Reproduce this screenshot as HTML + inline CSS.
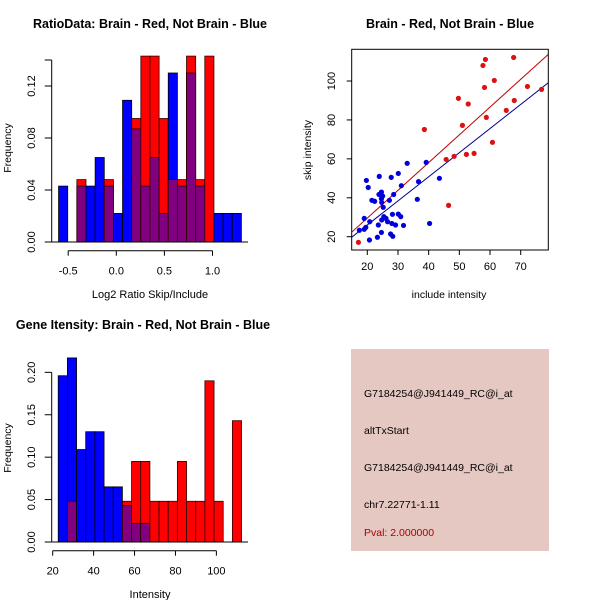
<!DOCTYPE html>
<html><head><meta charset="utf-8"><style>
body{margin:0;background:#fff}
svg{display:block;font-family:"Liberation Sans",sans-serif}
</style></head><body>
<svg id="s" width="600" height="600" viewBox="0 0 600 600">
<rect x="351" y="349" width="198" height="202" fill="#e6c8c2"/>
<g font-size="10.5" fill="#000">
<text x="364" y="397">G7184254@J941449_RC@i_at</text>
<text x="364" y="434">altTxStart</text>
<text x="364" y="471">G7184254@J941449_RC@i_at</text>
<text x="364" y="508">chr7.22771-1.11</text>
<text x="364" y="536" fill="#aa0000">Pval: 2.000000</text>
</g>
</svg>
<script>
// Ratio histogram data
const ratioBinStart = -0.6, ratioBinWidth = 0.095;
const ratioBlue = [0.043,0,0.043,0.043,0.065,0.043,0.022,0.109,0.087,0.043,0.065,0.022,0.13,0.043,0.13,0.043,0,0.022,0.022,0.022];
const ratioRed  = [0,0,0.048,0,0,0.048,0,0,0.095,0.143,0.143,0.095,0.048,0.048,0.143,0.048,0.143,0,0,0];
const ratioYTicks = [0,0.04,0.08,0.12];
const ratioYTickLabels = ["0.00","0.04","0.08","0.12"];
const ratioXTicks = [-0.5,0,0.5,1.0];
const ratioXTickLabels = ["-0.5","0.0","0.5","1.0"];
// Intensity histogram data
const intBinStart = 22.7, intBinWidth = 4.48;
const intBlue = [0.196,0.217,0.109,0.13,0.13,0.065,0.065,0.043,0.022,0.022,0,0,0,0,0,0,0,0,0,0];
const intRed  = [0,0.048,0,0,0,0,0,0.048,0.095,0.095,0.048,0.048,0.048,0.095,0.048,0.048,0.19,0.048,0,0.143];
const intYTicks = [0,0.05,0.1,0.15,0.2];
const intYTickLabels = ["0.00","0.05","0.10","0.15","0.20"];
const intXTicks = [20,40,60,80,100];
const intXTickLabels = ["20","40","60","80","100"];
// Scatter data
const redX = [17.1,38.6,45.7,46.5,48.3,49.7,51,52.3,52.9,54.8,57.7,58.5,58.2,58.8,60.8,61.4,65.3,67.7,67.9,72.2,76.8];
const redY = [17.1,75.1,59.7,36.1,61.3,91.1,77.2,62.3,88.2,62.8,108,111.1,96.7,81.3,68.5,100.3,84.9,112.1,90,97.2,95.7];
const blueX = [19.7,20.3,19.0,17.4,19.0,19.5,20.8,20.7,21.5,22.4,23.9,23.8,24.6,24.7,24.6,25.0,25.2,23.3,23.6,24.6,24.7,25.4,26.1,26.6,27.2,27.8,28.2,27.6,28.3,28.0,28.6,29.2,30.1,30.1,30.9,31.1,31.8,33.0,36.3,36.7,39.2,40.3,43.5];
const blueY = [48.9,45.3,29.4,23.3,23.8,24.8,27.7,18.3,38.7,38.2,51.0,41.7,42.9,37.6,39.5,40.9,35.1,19.7,26.0,22.2,28.6,30.3,29.4,27.7,38.7,50.5,31.5,21.4,20.2,26.8,41.7,26.0,52.5,31.6,30.3,46.2,25.8,57.7,39.2,48.3,58.2,26.8,50.0];
const redFit = [1.05,1.426];
const blueFit = [1.24,1.239];
const scXTicks = [20,30,40,50,60,70];
const scYTicks = [20,40,60,80,100];

const svg = document.getElementById('s');
const NS = 'http://www.w3.org/2000/svg';
function mk(tag, attrs, parent){
  const e = document.createElementNS(NS, tag);
  for (const k in attrs) e.setAttribute(k, attrs[k]);
  (parent||svg).appendChild(e); return e;
}
function txt(x,y,s,opts){
  const t = mk('text', Object.assign({x:x,y:y,'text-anchor':'middle','font-size':11}, opts||{}));
  t.textContent = s; return t;
}

function hist(cfg){
  const g = mk('g', {});
  
  
  const xs = v => cfg.x0 + cfg.xk*v, ys = v => cfg.y0 - cfg.yk*v;
  const n = cfg.blue.length;
  for (let i=0;i<n;i++){
    const a = xs(cfg.start + i*cfg.w), b = xs(cfg.start+(i+1)*cfg.w);
    const bl = cfg.blue[i], rd = cfg.red[i], ov = Math.min(bl, rd);
    if (bl>0){ const r = mk('rect',{x:a,y:ys(bl),width:b-a,height:ys(0)-ys(bl),fill:'#0000ff',stroke:'#000',"stroke-width":0.8},g);
        }
    if (rd>0){ const r = mk('rect',{x:a,y:ys(rd),width:b-a,height:ys(0)-ys(rd),fill:'#ff0000',stroke:'#300',"stroke-width":0.8},g);
        }
    if (ov>0){ const r = mk('rect',{x:a,y:ys(ov),width:b-a,height:ys(0)-ys(ov),fill:'#800080',stroke:'#300',"stroke-width":0.8},g);
        }
  }
  // baseline
  mk('line',{x1:cfg.axX,x2:cfg.baseEnd,y1:ys(0),y2:ys(0),stroke:'#000'},g);
  // y axis
  mk('line',{x1:cfg.axX,x2:cfg.axX,y1:ys(0),y2:ys(cfg.yTop),stroke:'#000'},g);
  cfg.yt.forEach((v,i)=>{
    mk('line',{x1:cfg.axX-7,x2:cfg.axX,y1:ys(v),y2:ys(v),stroke:'#000'},g);
    const t = txt(32, ys(v), cfg.ytl[i], {transform:`rotate(-90 32 ${ys(v)})`,'dominant-baseline':'middle'});
     
  });
  if (cfg.topTick) mk('line',{x1:cfg.axX-7,x2:cfg.axX,y1:ys(cfg.yTop),y2:ys(cfg.yTop),stroke:'#000'},g);
  // x axis
  const xa = cfg.xAxisY;
  mk('line',{x1:xs(cfg.xt[0]),x2:xs(cfg.xt[cfg.xt.length-1]),y1:xa,y2:xa,stroke:'#000'},g);
  cfg.xt.forEach((v,i)=>{
    mk('line',{x1:xs(v),x2:xs(v),y1:xa,y2:xa+5,stroke:'#000'},g);
    const t = txt(xs(v), xa+24, cfg.xtl[i]);
     
  });
}

hist({name:'ratio-histogram', start:ratioBinStart, w:ratioBinWidth, blue:ratioBlue, red:ratioRed,
  x0:116.3, xk:96.2, y0:242, yk:1300, axX:51.7, baseEnd:248, yTop:0.14, topTick:true,
  yt:ratioYTicks, ytl:ratioYTickLabels, xt:ratioXTicks, xtl:ratioXTickLabels, xAxisY:250.7});
hist({name:'intensity-histogram', start:intBinStart, w:intBinWidth, blue:intBlue, red:intRed,
  x0:52.7-20*2.046, xk:2.046, y0:542, yk:848.3, axX:51.7, baseEnd:248, yTop:0.2, topTick:false,
  yt:intYTicks, ytl:intYTickLabels, xt:intXTicks, xtl:intXTickLabels, xAxisY:550.7});

// titles and labels
let t;
t = txt(150,28,'RatioData: Brain - Red, Not Brain - Blue',{'font-weight':'bold','font-size':12.5});  
t = txt(150,298,'Log2 Ratio Skip/Include');  
t = txt(11,148,'Frequency',{transform:'rotate(-90 11 148)','font-size':10.5});  
t = txt(143,329,'Gene Itensity: Brain - Red, Not Brain - Blue',{'font-weight':'bold','font-size':12.5});  
t = txt(150,598,'Intensity');  
t = txt(11,448,'Frequency',{transform:'rotate(-90 11 448)','font-size':10.5});  
t = txt(450,28,'Brain - Red, Not Brain - Blue',{'font-weight':'bold','font-size':12.5});  
t = txt(449,298,'include intensity',{'font-size':10.5});  
t = txt(311,150,'skip intensity',{transform:'rotate(-90 311 150)','font-size':10.5});  

// scatter
(function(){
  const L=351.7,R=548.3,T=49.3,B=250;
  const sx = v => 367.3 + (v-20)*3.068, sy = v => 236.7 - (v-20)*1.946;
  const g = mk('g',{});
  
  
  const cp = mk('clipPath',{id:'cp'},g); mk('rect',{x:L,y:T,width:R-L,height:B-T},cp);
  const x1v=(L-367.3)/3.068+20, x2v=(R-367.3)/3.068+20;
  [[redFit,'#c00000','red-fit-line'],[blueFit,'#00008b','blue-fit-line']].forEach(([f,c,n])=>{
    const l = mk('line',{x1:sx(x1v),x2:sx(x2v),y1:sy(f[0]+f[1]*x1v),y2:sy(f[0]+f[1]*x2v),stroke:c,'stroke-width':1,'clip-path':'url(#cp)'},g);
     
  });
  blueX.forEach((x,i)=>{ const c = mk('circle',{cx:sx(x),cy:sy(blueY[i]),r:2.6,fill:'#0000dd'},g);
      });
  redX.forEach((x,i)=>{ const c = mk('circle',{cx:sx(x),cy:sy(redY[i]),r:2.6,fill:'#dd1111'},g);
      });
  mk('rect',{x:L,y:T,width:R-L,height:B-T,fill:'none',stroke:'#000'},g);
  scXTicks.forEach(v=>{ mk('line',{x1:sx(v),x2:sx(v),y1:B,y2:B+5,stroke:'#000'},g);
    const tt = txt(sx(v),B+20,String(v));   });
  scYTicks.forEach(v=>{ mk('line',{x1:L-5,x2:L,y1:sy(v),y2:sy(v),stroke:'#000'},g);
    const tt = txt(332,sy(v),String(v),{transform:`rotate(-90 332 ${sy(v)})`,'dominant-baseline':'middle'});   });
})();
</script>
</body></html>
